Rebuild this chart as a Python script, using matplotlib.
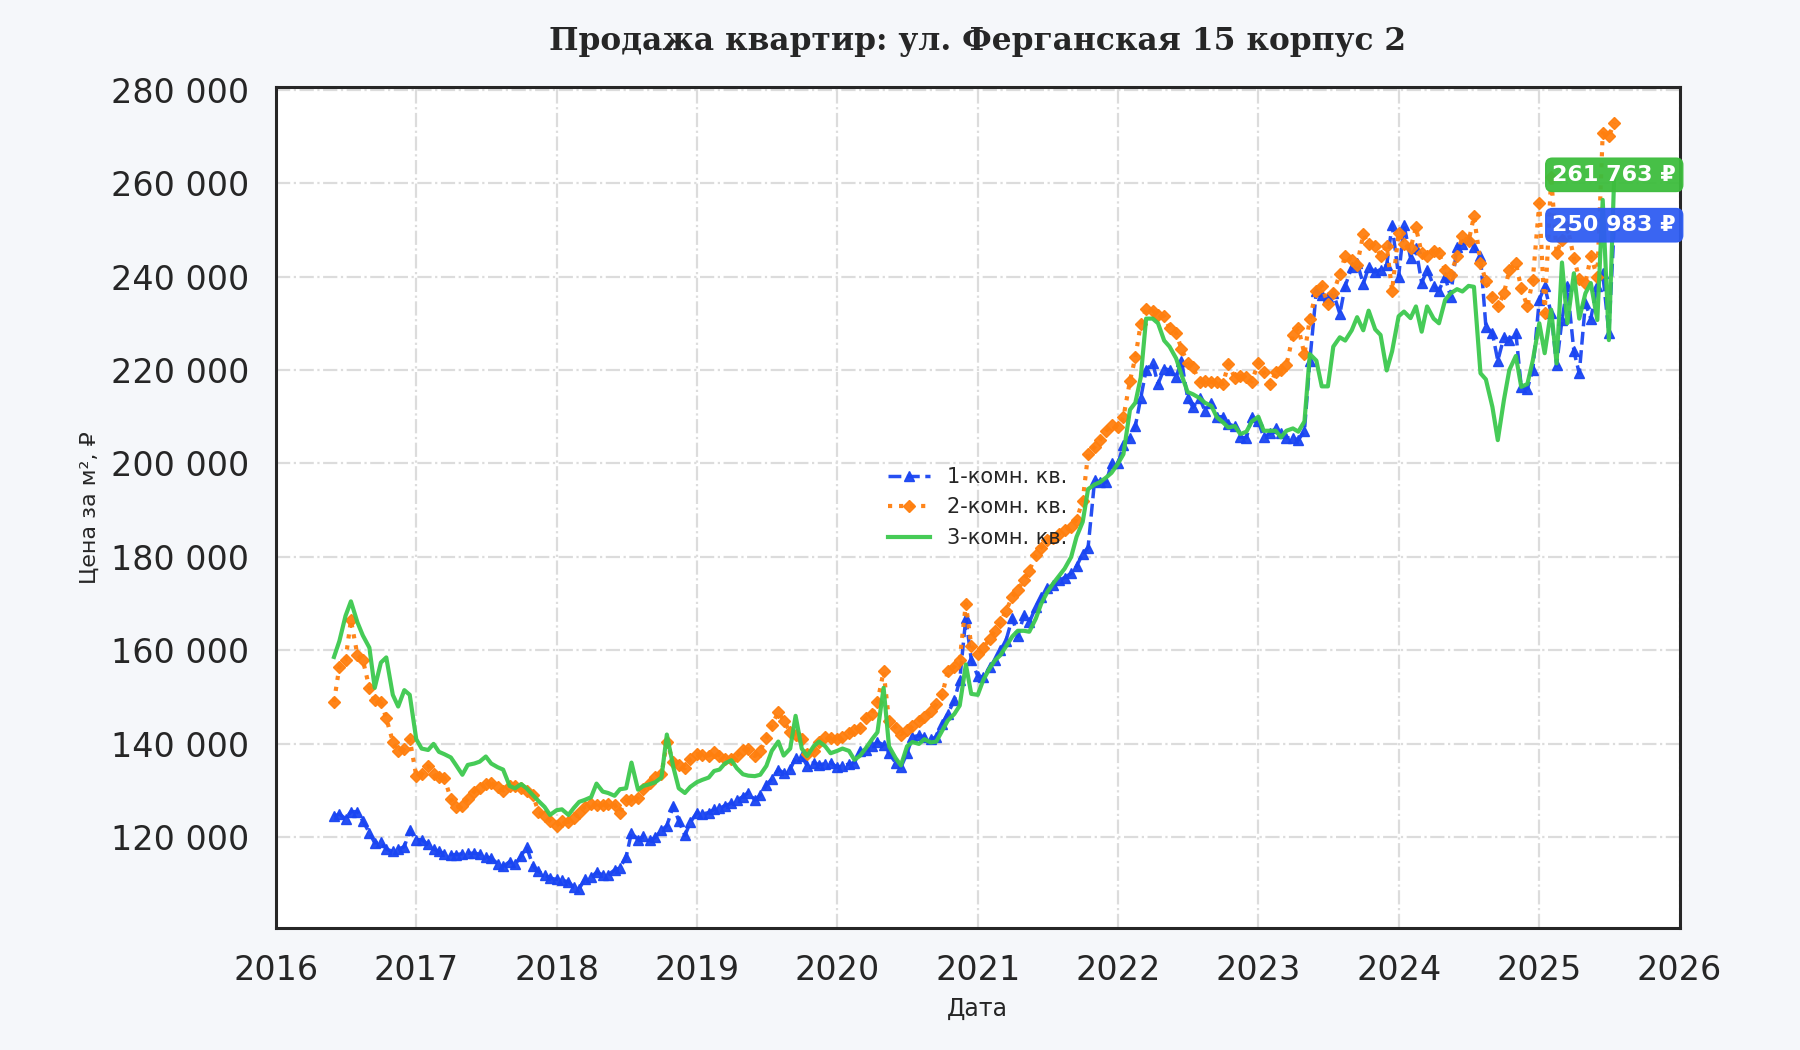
import numpy as np
import pandas as pd
import matplotlib
matplotlib.use("Agg")
import matplotlib.pyplot as plt
import matplotlib.dates as mdates
from matplotlib.ticker import FuncFormatter

# полумесячные точки, с 2016-06-01 по 2025-07-15 (цены в тыс. руб. за м²)
start_date = "2016-06-01"

one_room = [
    # 2016
    124.5, 125, 124, 125.5, 125.5, 123.5, 121, 118.8, 119, 117.5, 117, 117.5, 118, 121.5,
    # 2017
    119.5, 119.5, 118.5, 117.5, 117, 116.5, 116.3, 116.3, 116.5, 116.6, 116.6, 116.4,
    115.9, 115.5, 114.4, 113.8, 114.8, 114.2, 116, 118, 113.8, 112.7, 112, 111.3,
    # 2018
    111, 110.8, 110.5, 109.3, 109, 111, 111.5, 112.5, 112, 112, 113, 113.5,
    115.8, 121, 119.5, 120.2, 119.4, 120, 121.5, 122.5, 126.8, 123.5, 120.4, 123.2,
    # 2019
    125.3, 125, 125.3, 126, 126.2, 126.8, 127.3, 128, 128.7, 129.6, 128, 129,
    131.2, 132.5, 134.5, 133.8, 134.6, 137, 137.4, 135.3, 136, 135.5, 135.8, 136,
    # 2020
    135, 135.3, 135.7, 136, 138.5, 138.7, 139.5, 140.4, 139.8, 138, 136, 135,
    138, 141.5, 141.8, 141.5, 141, 141.5, 144.3, 146.5, 149.3, 153.6, 167, 158,
    # 2021
    154.5, 154.3, 156.4, 157.9, 160, 162, 167, 163, 167.5, 166, 169.3, 171.4,
    173.4, 174, 175, 175.6, 176.5, 178, 180.7, 182, 196.4, 196.1, 196, 200,
    # 2022
    200, 204, 205.5, 208, 214, 220, 221.5, 217, 220.3, 220, 218.4, 222,
    214, 212, 214, 211.3, 213, 210, 210, 208.4, 208, 205.6, 205.5, 210,
    # 2023
    209, 205.6, 206.5, 207.5, 206.5, 205.5, 205.5, 205, 207, 222, 237, 236,
    235.6, 236.5, 232, 238, 242, 243, 238.4, 242, 241, 241.5, 242.5, 251,
    # 2024
    240, 251, 244, 246, 238.6, 241.5, 238, 237, 240, 235.7, 246.4, 247,
    248, 246.4, 244.3, 229.3, 227.9, 222, 227, 226.4, 228, 216.4, 216, 220,
    # 2025
    235, 237.9, 232.1, 221, 230.7, 237.9, 224, 219.3, 234.3, 231, 238, 240.7, 228, 250.983,
]

two_room = [
    # 2016
    149, 156.5, 158, 166.5, 159, 158, 152, 149.3, 149, 145.5, 140.5, 138.5, 139, 141,
    # 2017
    133.2, 133.5, 135.3, 133.5, 133, 132.8, 128.2, 126.4, 126.8, 128.2, 129.8, 130.5,
    131.4, 131.7, 130.7, 130, 131, 131, 130.5, 130, 129, 125.4, 124.6, 123.5,
    # 2018
    122.5, 123.5, 123.3, 124.1, 125.3, 126.5, 127.1, 127, 127, 127.2, 127, 125.3,
    128, 128, 128.5, 130.3, 131.7, 133, 133.5, 140.3, 136.2, 135.4, 134.8, 136.8,
    # 2019
    137.8, 137.6, 137.5, 138.3, 137.5, 136.8, 136.8, 137.5, 138.6, 138.9, 137.4, 138.5,
    141.2, 144, 146.8, 145, 142.5, 142, 141, 137.8, 138.5, 140.5, 141.5, 141.2,
    # 2020
    141, 141.5, 142.3, 142.9, 143.5, 145.5, 146.5, 149, 155.5, 145, 143.5, 142,
    143, 143.8, 145, 145.7, 147, 148.5, 150.7, 155.5, 156.5, 158, 170, 161,
    # 2021
    159.3, 160.5, 162.5, 164.2, 166, 168.5, 171.4, 173, 175, 177, 180.5, 182,
    183.6, 184, 185, 185.7, 186.4, 188, 192, 202, 203.5, 205, 207, 208.2,
    # 2022
    207.7, 209.9, 217.7, 222.7, 229.9, 233, 232.7, 231.8, 231.5, 229, 228, 224.5,
    221.6, 220.6, 217.5, 217.6, 217.4, 217.4, 217, 221.3, 218.3, 218.7, 218.5, 217.5,
    # 2023
    221.6, 219.5, 217, 219.5, 220, 221, 227.5, 229, 223.4, 231, 237, 238,
    234.1, 236.5, 240.5, 244.5, 243.5, 242.5, 249, 247, 246.5, 244.5, 246.5, 237,
    # 2024
    249.3, 247, 246, 250.5, 245, 244.3, 245.5, 245, 241.4, 240.3, 244.5, 248.6,
    247.5, 252.9, 243, 239, 235.7, 233.6, 236.4, 241.4, 242.9, 237.5, 233.6, 239.3,
    # 2025
    255.7, 232.1, 261.4, 245, 247.9, 250.7, 244, 239.5, 238.6, 244.3, 240, 270.7, 270, 272.9,
]

three_room = [
    # 2016
    158.6, 162, 167.4, 170.5, 166, 163.2, 160.6, 152, 157.4, 158.5, 150.5, 148, 151.5, 150.5,
    # 2017
    141, 139, 138.7, 140, 138.3, 137.8, 137.1, 135.4, 133.4, 135.5, 135.8, 136.2,
    137.3, 135.8, 135, 134.5, 131, 130.5, 131.4, 130.5, 129, 127.8, 126.5, 124.8,
    # 2018
    125.8, 126, 124.8, 126.3, 127.6, 128, 128.6, 131.5, 129.8, 129.5, 128.9, 130.3,
    130.5, 136, 130.2, 131, 131.4, 131.8, 132.8, 142, 135, 130.5, 129.5, 130.8,
    # 2019
    131.8, 132.3, 132.8, 134.2, 134.5, 135.8, 136.5, 134.8, 133.5, 133.2, 133.1, 133.4,
    135.3, 138.5, 140.5, 137.5, 139, 146, 139, 137.4, 139.5, 140.5, 139.5, 138,
    # 2020
    138.5, 139, 138.5, 136.6, 137.5, 139, 141, 142.5, 152, 139.5, 137, 135.4,
    139.5, 140.4, 140, 141, 140.3, 140.5, 142.9, 145, 146.4, 148.2, 157, 150.7,
    # 2021
    150.5, 153.6, 156.2, 157.9, 159, 160.8, 163, 164.2, 164.2, 164, 166.8, 170,
    172.5, 174.2, 176, 177.5, 180, 184.3, 187.5, 194.5, 195.5, 196, 197, 198,
    # 2022
    200, 202, 211.5, 213, 218.4, 231, 231, 230, 226.3, 225, 222.5, 219,
    215.3, 214.8, 214, 213, 212.3, 209.9, 208.8, 207.7, 208, 206.3, 206.8, 209,
    # 2023
    210, 207, 207, 207, 205.6, 207, 207.5, 206.8, 209, 223.4, 222, 216.5,
    216.5, 225, 227, 226.3, 228.5, 231.3, 228.5, 232.7, 228.7, 227.5, 219.9, 224,
    # 2024
    231.5, 232.5, 231.1, 233.6, 228.2, 233.6, 231, 230, 235, 236.4, 237.3, 236.8,
    238, 237.8, 219.3, 218, 212.1, 205, 213.6, 220, 223, 216.4, 217, 222,
    # 2025
    230, 223.6, 232.9, 221.4, 243, 230, 240.7, 231, 236.4, 238.6, 230.7, 256.4, 226.4, 261.763,
]

labels = ["1-комн. кв.", "2-комн. кв.", "3-комн. кв."]
colors = ["#1a45f2", "#ff7f0e", "#3cc94e"]

dates = pd.date_range(start_date, periods=len(one_room), freq="SMS")

fig = plt.figure(figsize=(18, 10.5), dpi=100, facecolor="#f5f7fa")
ax = fig.add_axes([0.1531, 0.1166, 0.78, 0.8003])
ax.set_facecolor("white")

series = [np.array(one_room) * 1000, np.array(two_room) * 1000, np.array(three_room) * 1000]
ax.plot(dates, series[0], color=colors[0], linestyle="--", linewidth=2.5,
        marker="^", markersize=7, label=labels[0], alpha=0.95)
ax.plot(dates, series[1], color=colors[1], linestyle=":", linewidth=3,
        marker="D", markersize=6, label=labels[1], alpha=0.95)
ax.plot(dates, series[2], color=colors[2], linestyle="-", linewidth=3,
        label=labels[2], alpha=0.95)

# подписи последних значений
for vals, col in [(series[2], "#3dbd3d"), (series[0], "#2f5df2")]:
    v = vals[-1]
    ax.text(dates[-1], v, f"{int(round(v)):,} ₽".replace(",", " "),
            ha="center", va="center", fontsize=16, fontweight="bold", color="white",
            bbox=dict(boxstyle="round,pad=0.3", facecolor=col, edgecolor=col, alpha=0.95),
            zorder=5)

ax.set_xlim(pd.Timestamp("2016-01-01"), pd.Timestamp("2026-01-01"))
ax.set_ylim(100700, 280500)
ax.set_yticks(np.arange(120000, 280001, 20000))
ax.yaxis.set_major_formatter(FuncFormatter(lambda v, p: f"{int(v):,}".replace(",", " ")))
ax.xaxis.set_major_locator(mdates.YearLocator())
ax.xaxis.set_major_formatter(mdates.DateFormatter("%Y"))

ax.grid(True, color="#dcdcdc", linestyle="-.", linewidth=1.6)
ax.set_axisbelow(True)
ax.tick_params(axis="both", length=0, pad=19, labelsize=24, colors="#262626")
for sp in ax.spines.values():
    sp.set_color("#262626")
    sp.set_linewidth(2.2)

ax.set_title("Продажа квартир: ул. Ферганская 15 корпус 2", fontsize=22.5,
             fontweight="bold", family="DejaVu Serif", color="#262626", pad=27)
ax.set_xlabel("Дата", fontsize=17, color="#262626", labelpad=7)
ax.set_ylabel("Цена за м², ₽", fontsize=16, color="#262626", labelpad=8)

leg = ax.legend(loc="center", frameon=False, fontsize=15)
for t in leg.get_texts():
    t.set_color("#262626")

fig.savefig("out.png", dpi=100, facecolor=fig.get_facecolor())
